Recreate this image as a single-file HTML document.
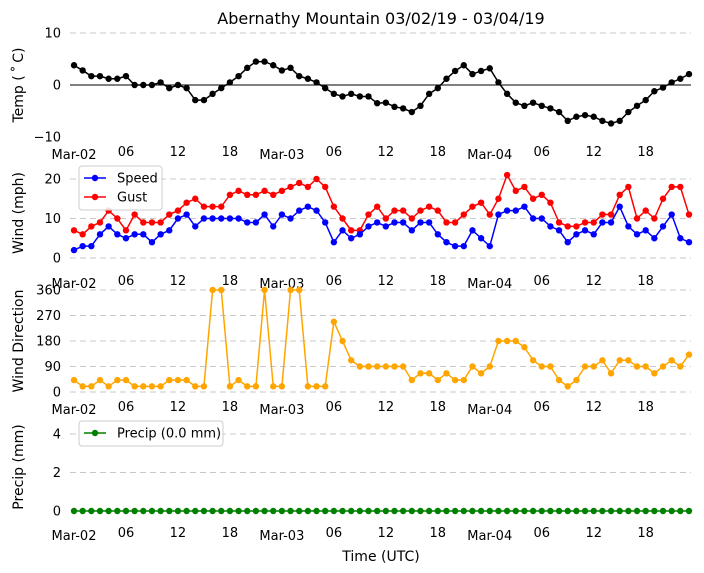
<!DOCTYPE html>
<html><head><meta charset="utf-8"><style>
body{margin:0;background:#fff;}
svg{display:block;font-family:"DejaVu Sans","Liberation Sans",sans-serif;}
</style></head><body>
<svg id="chart" width="704" height="573" viewBox="0 0 704 573" xmlns="http://www.w3.org/2000/svg">
<text x="381" y="24" font-size="16" text-anchor="middle">Abernathy Mountain 03/02/19 - 03/04/19</text>
<g id="g"></g>
</svg>
<script>
const hours = Array.from({length:72},(_,i)=>i);
const xTickLabels = ["Mar-02","06","12","18","Mar-03","06","12","18","Mar-04","06","12","18"];
const temp = [3.8,2.8,1.7,1.7,1.2,1.2,1.7,0,0,0,0.5,-0.6,0,-0.6,-2.9,-2.9,-1.7,-0.6,0.5,1.7,3.3,4.5,4.5,3.8,2.8,3.3,1.7,1.2,0.5,-0.6,-1.7,-2.2,-1.7,-2.2,-2.2,-3.5,-3.4,-4.2,-4.5,-5.2,-4,-1.7,-0.6,1.2,2.7,3.8,2.1,2.7,3.2,0.5,-1.7,-3.4,-4,-3.4,-4,-4.5,-5.2,-6.9,-6.1,-5.8,-6.1,-6.9,-7.4,-6.9,-5.2,-4,-2.9,-1.2,-0.5,0.5,1.2,2.1];
const speed = [2,3,3,6,8,6,5,6,6,4,6,7,10,11,8,10,10,10,10,10,9,9,11,8,11,10,12,13,12,9,4,7,5,6,8,9,8,9,9,7,9,9,6,4,3,3,7,5,3,11,12,12,13,10,10,8,7,4,6,7,6,9,9,13,8,6,7,5,8,11,5,4];
const gust = [7,6,8,9,12,10,7,11,9,9,9,11,12,14,15,13,13,13,16,17,16,16,17,16,17,18,19,18,20,18,13,10,7,7,11,13,10,12,12,10,12,13,12,9,9,11,13,14,11,15,21,17,18,15,16,14,9,8,8,9,9,11,11,16,18,10,12,10,15,18,18,11];
const dir = [42,20,20,42,20,42,42,20,20,20,20,42,42,42,20,20,360,360,20,42,20,20,360,20,20,360,360,20,20,20,248,180,112,90,90,90,90,90,90,42,66,66,42,66,42,42,90,66,90,180,180,180,158,112,90,90,42,20,42,90,90,112,66,112,112,90,90,66,90,112,90,132];
const precip = new Array(72).fill(0);

const NS="http://www.w3.org/2000/svg";
const g=document.getElementById('g');
function el(tag,attrs,parent){const e=document.createElementNS(NS,tag);for(const k in attrs)e.setAttribute(k,attrs[k]);(parent||g).appendChild(e);return e;}
const x = h => 74 + h*(615/71);
const panels = [
 {name:'temp',y0:85,ppu:5.2,ticks:[10,0,-10],grid:[10],label:'Temp ($^\\circ$C)',labelY:85,tickRowY:158},
 {name:'wind',y0:258,ppu:3.95,ticks:[20,10,0],grid:[20,10,0],label:'Wind (mph)',labelY:213,tickRowY:287},
 {name:'direction',y0:392,ppu:102/360,ticks:[360,270,180,90,0],grid:[360,270,180,90,0],label:'Wind Direction',labelY:341,tickRowY:413},
 {name:'precip',y0:511,ppu:19.25,ticks:[4,2,0],grid:[4,2],label:'Precip (mm)',labelY:467,tickRowY:539}
];
panels.forEach(p=>{
  const y=v=>p.y0-v*p.ppu;
  p.y=y;
  p.grid.forEach(v=>{
    const l=el('line',{x1:70,x2:691,y1:y(v),y2:y(v),stroke:'#c8c8c8','stroke-dasharray':'6,4','stroke-width':1});
    
    
  });
  p.ticks.forEach(v=>{
    const t=el('text',{x:61,y:y(v)+4.5,'font-size':13,'text-anchor':'end'});
    t.textContent=(v<0?'\u2212'+(-v):v);
    
    
  });
  xTickLabels.forEach((s,i)=>{
    const isDay=s.startsWith('Mar');
    const t=el('text',{x:x(i*6),y:p.tickRowY+(isDay?1:-2),'font-size':13,'text-anchor':'middle'});
    t.textContent=s;
    
    
  });
  const yl=el('text',{transform:`translate(23,${p.labelY}) rotate(-90)`,'font-size':14,'text-anchor':'middle'});
  yl.textContent=p.name==='temp'?'Temp (\u02daC)':p.label;
  if(p.name==='temp') yl.textContent='Temp (\u2009\u02da\u2009C)';
  
  
});
const zl=el('line',{x1:70,x2:691,y1:85,y2:85,stroke:'#000','stroke-width':1});



function series(vals,p,color,name){
  const pts=vals.map((v,i)=>x(hours[i])+','+p.y(v)).join(' ');
  const pl=el('polyline',{points:pts,fill:'none',stroke:color,'stroke-width':1.5});
  
  
  vals.forEach((v,i)=>{
    const c=el('circle',{cx:x(hours[i]),cy:p.y(v),r:3.2,fill:color});
    
    
  });
}
series(temp,panels[0],'#000','temp');
series(gust,panels[1],'#ff0000','gust');
series(speed,panels[1],'#0000ff','speed');
series(dir,panels[2],'#ffa500','direction');
series(precip,panels[3],'#008000','precip');

function legend(x0,y0,w,items){
  const lg=el('g',{});
  
  
  el('rect',{x:x0,y:y0,width:w,height:items.length*19+6,rx:3,fill:'#fff','fill-opacity':0.85,stroke:'#ccc'},lg);
  items.forEach((it,i)=>{
    const cy=y0+12+i*19;
    el('line',{x1:x0+5,x2:x0+27,y1:cy,y2:cy,stroke:it[1],'stroke-width':1.5},lg);
    el('circle',{cx:x0+16,cy:cy,r:3.2,fill:it[1]},lg);
    const t=el('text',{x:x0+38,y:cy+4.5,'font-size':13},lg);
    t.textContent=it[0];
    
    
  });
}
legend(79,166,83,[['Speed','#0000ff'],['Gust','#ff0000']]);
legend(79,421,144,[['Precip (0.0 mm)','#008000']]);
const xt=el('text',{x:381,y:561,'font-size':14,'text-anchor':'middle'});
xt.textContent='Time (UTC)';


</script>
</body></html>
